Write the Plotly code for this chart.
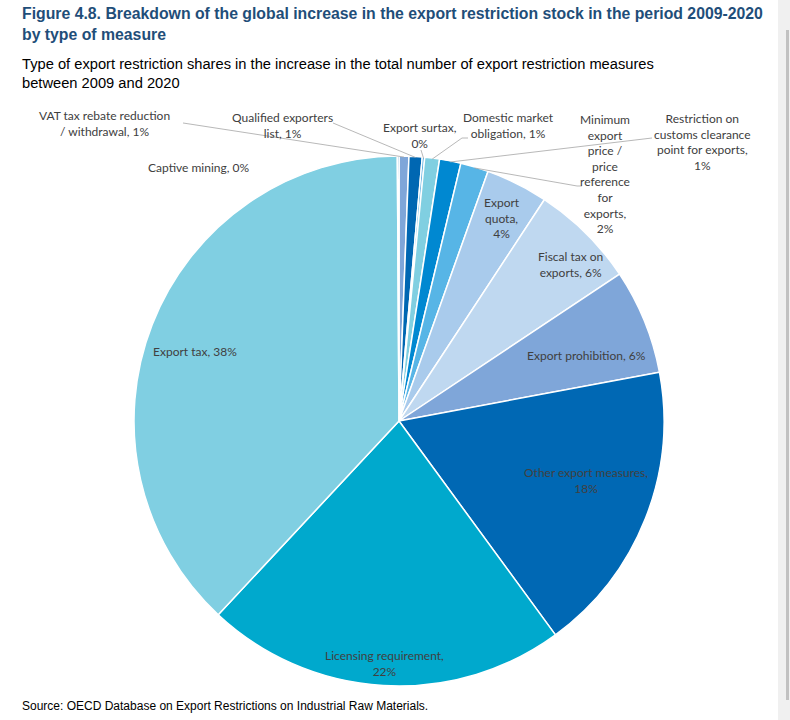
import math
import plotly.graph_objects as go

# ---------------- data ----------------
categories = [
    "VAT tax rebate reduction / withdrawal",
    "Qualified exporters list",
    "Export surtax",
    "Domestic market obligation",
    "Restriction on customs clearance point for exports",
    "Minimum export price / price reference for exports",
    "Export quota",
    "Fiscal tax on exports",
    "Export prohibition",
    "Other export measures",
    "Licensing requirement",
    "Export tax",
    "Captive mining",
]
shares = [0.6, 0.8, 0.15, 0.9, 1.3, 1.7, 3.8, 6.4, 6.4, 17.9, 22.0, 37.95, 0.1]
label_names = [
    "VAT tax rebate reduction<br>/ withdrawal",
    "Qualified exporters<br>list",
    "Export surtax,<br>",
    "Domestic market<br>obligation",
    "Restriction on<br>customs clearance<br>point for exports,<br>",
    "Minimum<br>export<br>price /<br>price<br>reference<br>for<br>exports,<br>",
    "Export<br>quota,<br>",
    "Fiscal tax on<br>exports",
    "Export prohibition",
    "Other export measures,<br>",
    "Licensing requirement,<br>",
    "Export tax",
    "Captive mining",
]
colors = ["#7FA6D9", "#0067B2", "#4FA9DE", "#80CFE1", "#0088D1", "#57B5E6",
          "#A9CBEC", "#BFD8F0", "#7FA6D9", "#0068B4", "#00A9CD", "#80CFE2", "#0067B2"]

# ---------------- layout constants ----------------
W, H = 790, 720
CX, CY, R = 399, 421, 265  # pie centre / radius in pixels


def px(x):
    return x / W


def py(y):
    return 1 - y / H


# label centre positions (pixels) and leader start paths
label_pos = [
    (104, 123), (282, 125), (420, 135), (508, 125), (702, 142), (605, 174),
    (502, 218), (570, 264), (586, 355), (586, 480), (384, 663), (195, 351), (198, 167),
]
leader_start = {
    0: [(183, 123)],
    1: [(333, 123)],
    2: [(421, 150)],
    3: [(468, 138), (462, 138)],
    4: [(652, 138)],
    5: [(582, 186), (577, 186)],
}

total = sum(shares)
fig = go.Figure(go.Pie(
    labels=categories,
    values=shares,
    sort=False,
    direction="clockwise",
    rotation=0,
    marker=dict(colors=colors, line=dict(color="white", width=1.5)),
    textinfo="none",
    hoverinfo="label+percent",
    showlegend=False,
    domain=dict(x=[px(CX - R), px(CX + R)], y=[py(CY + R), py(CY - R)]),
))

annotations = []
shapes = []
cum = 0.0
for i, v in enumerate(shares):
    pct = v / total * 100
    mid = (cum + v / 2) / total * 2 * math.pi
    cum += v
    name = label_names[i]
    if name.endswith("<br>"):
        txt = f"{name}{pct:.0f}%"
    else:
        txt = f"{name}, {pct:.0f}%"
    lx, ly = label_pos[i]
    annotations.append(dict(
        x=px(lx), y=py(ly), xref="paper", yref="paper", text=txt, showarrow=False,
        xanchor="center", yanchor="middle", align="center",
        font=dict(family="Lato, Calibri, sans-serif", size=12, color="#404040"),
    ))
    if i in leader_start:
        ax = CX + R * math.sin(mid)
        ay = CY - R * math.cos(mid) + 1
        pts = leader_start[i] + [(ax, ay)]
        path = "M " + " L ".join(f"{px(x):.5f},{py(y):.5f}" for x, y in pts)
        shapes.append(dict(type="path", path=path, xref="paper", yref="paper",
                           line=dict(color="#A6A6A6", width=0.8)))

annotations += [
    dict(x=px(20), y=py(3), xref="paper", yref="paper", xanchor="left", yanchor="top",
         align="left", showarrow=False,
         text="<b>Figure 4.8. Breakdown of the global increase in the export restriction stock in the period 2009-2020<br>by type of measure</b>",
         font=dict(family="Liberation Sans, Arial, sans-serif", size=15.8, color="#1F4E79")),
    dict(x=px(20), y=py(54), xref="paper", yref="paper", xanchor="left", yanchor="top",
         align="left", showarrow=False,
         text="Type of export restriction shares in the increase in the total number of export restriction measures<br>between 2009 and 2020",
         font=dict(family="Liberation Sans, Arial, sans-serif", size=14.7, color="#000000")),
    dict(x=px(20), y=py(706), xref="paper", yref="paper", xanchor="left", yanchor="middle",
         align="left", showarrow=False,
         text="Source: OECD Database on Export Restrictions on Industrial Raw Materials.",
         font=dict(family="Liberation Sans, Arial, sans-serif", size=12, color="#000000")),
]

# window scrollbar strip at right edge
shapes += [
    dict(type="rect", xref="paper", yref="paper", x0=px(778), x1=1, y0=0, y1=1,
         fillcolor="#F0F0F0", line=dict(width=0), layer="below"),
    dict(type="rect", xref="paper", yref="paper", x0=px(786), x1=px(789), y0=py(700), y1=py(30),
         fillcolor="#C1C1C1", line=dict(width=0), layer="below"),
]

fig.update_layout(
    width=W, height=H, margin=dict(l=0, r=0, t=0, b=0),
    paper_bgcolor="white", plot_bgcolor="white",
    annotations=annotations, shapes=shapes,
)
fig.write_html("out.html", config={"displayModeBar": False},
               post_script="document.body.style.margin='0';")
